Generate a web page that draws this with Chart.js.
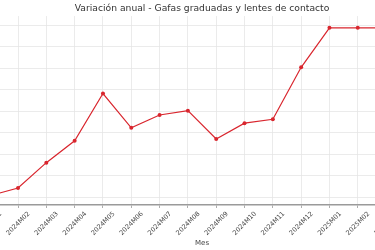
<!DOCTYPE html>
<html>
<head>
    <meta charset="utf-8">
    <title>Variación anual - Gafas graduadas y lentes de contacto</title>
    <script src="https://cdn.jsdelivr.net/npm/chart.js"></script>
    <style>
        html, body { margin: 0; padding: 0; overflow: hidden; background: #fff; }
        #wrap { position: absolute; left: -60px; top: 0; width: 500px; height: 250px; }
    </style>
</head>
<body>
    <div id="wrap"><canvas id="chart"></canvas></div>

    <script>
        // months shown on the x axis
        const months = ['2024M01', '2024M02', '2024M03', '2024M04', '2024M05', '2024M06',
                        '2024M07', '2024M08', '2024M09', '2024M10', '2024M11', '2024M12',
                        '2025M01', '2025M02', '2025M03', '2025M04'];
        // annual variation (%)
        const variation = [0.03, 0.21, 0.80, 1.31, 2.41, 1.61, 1.91, 2.01,
                           1.35, 1.72, 1.81, 3.02, 3.94, 3.94, 3.94, 4.02];

        Chart.defaults.font.family = 'DejaVu Sans';
        Chart.defaults.color = '#444';

        const ctx = document.getElementById('chart').getContext('2d');
        new Chart(ctx, {
            type: 'line',
            data: {
                labels: months,
                datasets: [{
                    label: 'Variación anual',
                    data: variation,
                    borderColor: '#d9262e',
                    backgroundColor: '#d9262e',
                    borderWidth: 1.2,
                    pointRadius: 2,
                    pointBorderWidth: 0,
                    tension: 0
                }]
            },
            options: {
                responsive: true,
                maintainAspectRatio: false,
                animation: false,
                layout: { padding: { left: 49.7, right: 25.6, top: 0, bottom: 0 } },
                plugins: {
                    legend: { display: false },
                    tooltip: { enabled: false },
                    title: {
                        display: true,
                        text: 'Variación anual - Gafas graduadas y lentes de contacto',
                        fullSize: false,
                        color: '#333',
                        font: { size: 9.2, weight: 'normal' },
                        padding: { top: 3, bottom: 2 }
                    }
                },
                scales: {
                    x: {
                        grid: { color: '#e6e6e6', lineWidth: 0.8, tickLength: 3, tickColor: '#999' },
                        border: { color: '#9a9a9a', width: 1.5 },
                        ticks: {
                            font: { size: 6.5 },
                            minRotation: 45,
                            maxRotation: 45,
                            autoSkip: false,
                            labelOffset: 11,
                            padding: 2
                        },
                        title: {
                            display: true,
                            text: 'Mes',
                            font: { size: 7 },
                            padding: { top: 0, bottom: 3 }
                        },
                        afterFit: (scale) => {
                            scale.height = 45;
                            scale.paddingLeft = 0;
                            scale.paddingRight = 0;
                        }
                    },
                    y: {
                        min: -0.186,
                        max: 4.214,
                        grid: { color: '#e6e6e6', lineWidth: 0.8, drawTicks: false },
                        border: { display: false },
                        ticks: { display: false, stepSize: 0.5, includeBounds: false },
                        afterFit: (scale) => { scale.width = 0; }
                    }
                }
            }
        });
    </script>
</body>
</html>
